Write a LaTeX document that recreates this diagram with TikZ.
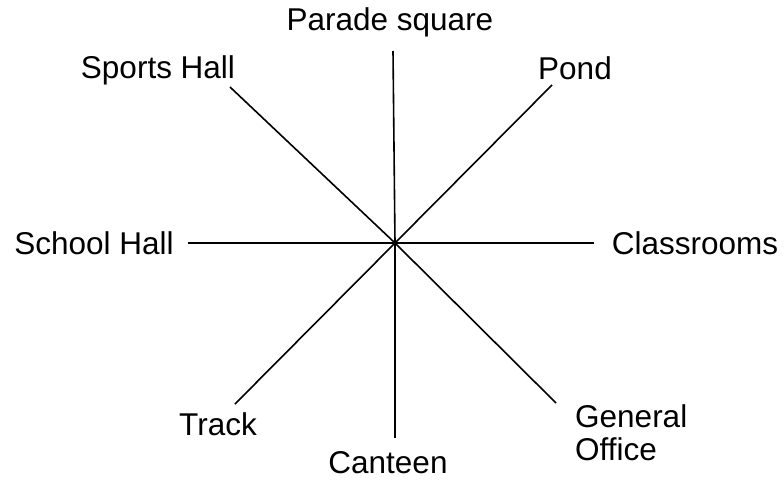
\documentclass[tikz,border=0pt]{standalone}
\usepackage{fontspec}
\setmainfont{Liberation Sans}
\begin{document}
\begin{tikzpicture}[x=1pt,y=-1pt,
  lbl/.style={inner sep=0pt,font=\fontsize{31.5}{36}\selectfont},
  spoke/.style={line width=1.6pt,black}]
\useasboundingbox (0,0) rectangle (784,482);
\coordinate (c) at (395,243);
\coordinate (nN) at (393,51);
\coordinate (nS) at (395,438);
\coordinate (nW) at (188,243);
\coordinate (nE) at (594,243);
\coordinate (nNW) at (230,87);
\coordinate (nNE) at (552,85);
\coordinate (nSW) at (235,404);
\coordinate (nSE) at (556,403);
\foreach \p in {nN,nS,nW,nE,nNW,nNE,nSW,nSE} \draw[spoke] (c) -- (\p);
\node[lbl] (parade) at (390,22) {Parade square};
\node[lbl] (sports) at (158,70) {Sports Hall};
\node[lbl] (pond) at (575,68) {Pond};
\node[lbl] (school) at (94,243) {School Hall};
\node[lbl] (class) at (695,243) {Classrooms};
\node[lbl] (track) at (218,424) {Track};
\node[lbl] (canteen) at (388,463) {Canteen};
\node[lbl,anchor=west] (gen) at (575,416) {General};
\node[lbl,anchor=west] (office) at (575,449) {Office};
\end{tikzpicture}
\end{document}
